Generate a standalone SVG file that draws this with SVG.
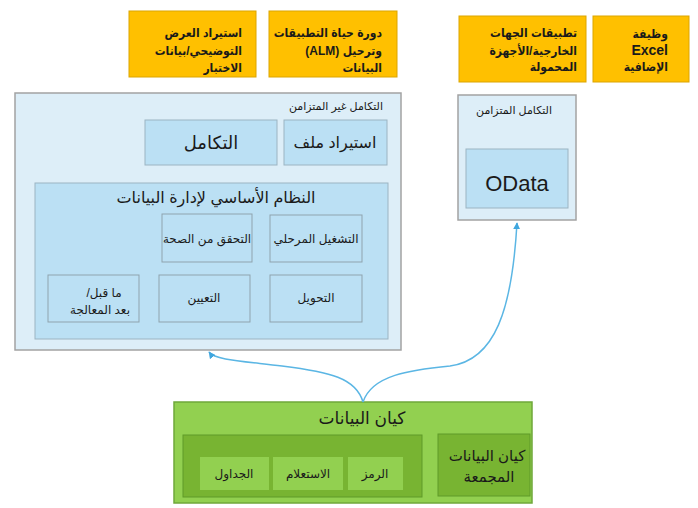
<svg xmlns="http://www.w3.org/2000/svg" width="698" height="508" viewBox="0 0 698 508">
<defs>
<style>
text{font-family:"Liberation Sans","DejaVu Sans",Arial,sans-serif;fill:#1a1a1a}
.y{fill:#ffc000;stroke:#dca500;stroke-width:1}
.yt{font-family:"Liberation Sans","DejaVu Sans Condensed","DejaVu Sans",sans-serif;font-stretch:condensed;font-size:12px;font-weight:bold;direction:rtl;text-anchor:start}
.cont{fill:#ddeef8;stroke:#a3a3a3;stroke-width:1.5}
.blue{fill:#bbe0f4;stroke:#9cb4c2;stroke-width:1}
.sub{fill:#bbe0f4;stroke:#8fa3ae;stroke-width:1}
.st{font-size:12px;text-anchor:middle;direction:rtl}
.g1{fill:#92d050;stroke:#6fa83a;stroke-width:1.5}
.g2{fill:#78b432;stroke:#5f9a28;stroke-width:1}
.g3{fill:#92d050;stroke:none}
.c{fill:none;stroke:#5bb6e4;stroke-width:1.5}
</style>
<marker id="ah" viewBox="0 0 10 10" refX="9" refY="5" markerWidth="7" markerHeight="7" orient="auto-start-reverse" markerUnits="userSpaceOnUse">
<path d="M0,0 L10,5 L0,10 z" fill="#3fa6de"/>
</marker>
</defs>

<g id="n-demo-import">
<rect class="y" x="129" y="11" width="127" height="66"/>
<text class="yt" x="242" y="37">استيراد العرض</text>
<text class="yt" x="242" y="55">التوضيحي/بيانات</text>
<text class="yt" x="242" y="72">الاختبار</text>
</g>
<g id="n-alm">
<rect class="y" x="269" y="11" width="128" height="66"/>
<text class="yt" x="382" y="37">دورة حياة التطبيقات</text>
<text class="yt" x="382" y="55">وترحيل (ALM)</text>
<text class="yt" x="382" y="72">البيانات</text>
</g>
<g id="n-mobile">
<rect class="y" x="459" y="16" width="127" height="66"/>
<text class="yt" x="577" y="37">تطبيقات الجهات</text>
<text class="yt" x="577" y="55">الخارجية/الأجهزة</text>
<text class="yt" x="577" y="71">المحمولة</text>
</g>
<g id="n-excel">
<rect class="y" x="593" y="16" width="96" height="66"/>
<text class="yt" x="668" y="38">وظيفة</text>
<text class="yt" x="668" y="55" style="font-size:14px">Excel</text>
<text class="yt" x="668" y="71">الإضافية</text>
</g>

<g id="n-async">
<rect class="cont" x="15" y="93" width="386" height="257"/>
<text x="383" y="110" style="font-size:11px;direction:rtl;text-anchor:start">التكامل غير المتزامن</text>
</g>
<g id="n-integration">
<rect class="blue" x="145" y="120" width="132" height="45"/>
<text x="211" y="149" style="font-size:18px;text-anchor:middle;direction:rtl">التكامل</text>
</g>
<g id="n-file-import">
<rect class="blue" x="284" y="120" width="103" height="45"/>
<text x="335" y="148" style="font-size:16px;text-anchor:middle;direction:rtl">استيراد ملف</text>
</g>
<g id="n-dmf">
<rect class="blue" x="35" y="183" width="353" height="156"/>
<text x="216" y="203" style="font-size:16px;text-anchor:middle;direction:rtl">النظام الأساسي لإدارة البيانات</text>
</g>
<g id="n-staging">
<rect class="sub" x="270" y="215" width="92" height="47"/>
<text class="st" x="316" y="243">التشغيل المرحلي</text>
</g>
<g id="n-validation">
<rect class="sub" x="162" y="214" width="90" height="48"/>
<text class="st" x="207" y="243">التحقق من الصحة</text>
</g>
<g id="n-prepost">
<rect class="sub" x="48" y="275" width="91" height="47"/>
<text class="st" x="104" y="297">ما قبل/</text>
<text class="st" x="100" y="314">بعد المعالجة</text>
</g>
<g id="n-mapping">
<rect class="sub" x="159" y="275" width="91" height="47"/>
<text class="st" x="204" y="302">التعيين</text>
</g>
<g id="n-transform">
<rect class="sub" x="270" y="275" width="92" height="47"/>
<text class="st" x="316" y="302">التحويل</text>
</g>

<g id="n-sync">
<rect class="cont" x="458" y="95" width="118" height="125"/>
<text x="514" y="114" style="font-size:11px;text-anchor:middle;direction:rtl">التكامل المتزامن</text>
</g>
<g id="n-odata">
<rect class="blue" x="466" y="149" width="102" height="59"/>
<text x="517" y="191" style="font-size:22px;text-anchor:middle">OData</text>
</g>

<g id="n-entity">
<rect class="g1" x="174" y="402" width="358" height="101"/>
<text x="362" y="424" style="font-size:17px;text-anchor:middle;direction:rtl">كيان البيانات</text>
</g>
<g id="n-entity-group">
<rect class="g2" x="183" y="435" width="239" height="62"/>
</g>
<g id="n-tables">
<rect class="g3" x="200" y="457" width="69" height="33"/>
<text class="st" x="234" y="478">الجداول</text>
</g>
<g id="n-query">
<rect class="g3" x="273" y="457" width="70" height="33"/>
<text class="st" x="308" y="478">الاستعلام</text>
</g>
<g id="n-code">
<rect class="g3" x="348" y="457" width="55" height="33"/>
<text class="st" x="375" y="478">الرمز</text>
</g>
<g id="n-composite">
<rect class="g2" x="438" y="434" width="92" height="62"/>
<text x="487" y="461" style="font-size:15px;text-anchor:middle;direction:rtl">كيان البيانات</text>
<text x="489" y="482" style="font-size:15px;text-anchor:middle;direction:rtl">المجمعة</text>
</g>

<g id="connectors">
<path class="c" d="M363,402 C356,378 330,372 282,366 C240,361 215,360 209,352" marker-end="url(#ah)"/>
<path class="c" d="M363,402 C372,375 410,370 450,366 C495,360 512,310 517,223" marker-end="url(#ah)"/>
</g>
</svg>
